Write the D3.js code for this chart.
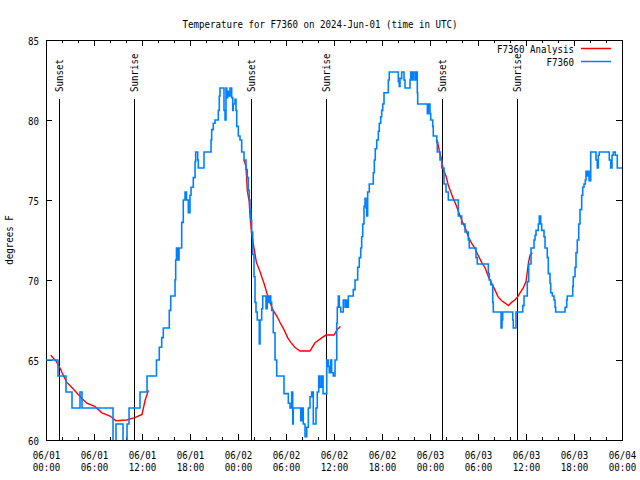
<!DOCTYPE html>
<html><head><meta charset="utf-8">
<script src="https://cdn.jsdelivr.net/npm/d3@7/dist/d3.min.js"></script>
<style>
body{margin:0;background:#fff}
text{font-family:"DejaVu Sans Mono",monospace;font-size:11px;fill:#000}
</style>
</head><body>
<svg id="c" width="640" height="480"></svg>
<script>
const title = "Temperature for F7360 on 2024-Jun-01 (time in UTC)";
const yLabel = "degrees F";
const seriesNames = ["F7360 Analysis", "F7360"];
const xMajorHours = [0,6,12,18,24,30,36,42,48,54,60,66,72];
const xTickDates = ["06/01","06/01","06/01","06/01","06/02","06/02","06/02","06/02","06/03","06/03","06/03","06/03","06/04"];
const xTickTimes = ["00:00","06:00","12:00","18:00","00:00","06:00","12:00","18:00","00:00","06:00","12:00","18:00","00:00"];
const xMinorHours = [2,4,8,10,14,16,20,22,26,28,32,34,38,40,44,46,50,52,56,58,62,64,68,70];
const yTicks = [60,65,70,75,80,85];
const sunNames = ["Sunset","Sunrise","Sunset","Sunrise","Sunset","Sunrise"];
const sunHours = [1.67,11.04,25.68,35.04,49.55,58.93];

const obsHours = [0,1.5,2.5,3.25,4.25,4.5,8.38,8.75,9.63,10.13,10.38,11.75,12.63,13.81,14.16,14.46,14.66,15.41,15.59,16.13,16.21,16.31,16.5,16.63,16.96,17.16,17.38,17.56,17.79,18.0,18.13,18.41,18.63,18.71,18.96,19.04,19.75,20.63,20.71,20.91,21.13,21.54,21.66,21.75,22.25,22.38,22.5,22.59,22.71,22.84,23.0,23.21,23.34,23.41,23.63,23.75,23.84,24.04,24.25,24.46,24.75,25.0,25.16,25.29,25.41,25.5,25.59,25.71,25.84,26.0,26.13,26.25,26.41,26.66,26.75,26.96,27.09,27.5,27.66,27.79,27.91,28.09,28.21,28.41,28.63,28.84,29.75,30.29,30.5,30.71,30.84,30.91,31.84,31.96,32.16,32.38,32.59,32.79,33.0,33.21,33.41,33.75,33.91,34.09,34.25,34.46,34.63,35.09,35.29,35.41,35.59,35.71,35.91,36.13,36.34,36.41,36.54,36.66,36.84,37.16,37.38,37.5,37.59,37.79,38.41,38.63,38.96,39.16,39.34,39.46,39.59,39.75,39.88,40.0,40.09,40.21,40.41,40.91,41.04,41.16,41.34,41.54,41.66,41.84,41.96,42.09,42.25,42.79,42.91,44.04,44.16,44.25,44.46,44.75,44.88,45.5,45.59,45.75,45.91,46.13,46.25,46.41,46.46,47.67,47.79,48.0,48.09,48.34,48.41,48.84,48.91,49.25,49.46,49.75,50.0,50.29,51.54,51.96,52.38,52.79,52.91,53.75,53.91,55.29,55.41,55.59,55.84,55.91,56.88,57.0,57.09,58.34,58.41,58.75,59.59,59.75,60.16,60.34,60.63,61.0,61.13,61.25,61.54,61.66,61.84,61.96,62.25,62.38,62.66,62.79,63.0,63.09,63.29,63.5,63.63,63.71,64.88,65.09,65.16,65.84,65.91,66.13,66.25,66.41,66.59,66.75,66.96,67.09,67.25,67.41,67.5,67.66,67.75,67.88,68.09,68.75,68.91,69.04,69.16,70.41,70.59,70.75,70.91,71.16,71.41,72];
const obsTemps = [65,64,63,62,63,62,59.5,61,59.5,61,62,63,64,65,65.8,66.4,67,68.1,69,70,71.25,72,71.25,72,73.6,75,75.5,75,74.2,75.3,75.8,76.4,77.4,78,77.5,77,78,78.75,79.4,79.8,80,80.6,81.5,82,80.6,80,82,81.4,81.8,81.5,82,81.4,80.6,81,81.3,80.6,79.6,79,78.75,78,77.5,76.9,76.4,75.6,75,74.4,73.75,73,71.6,70.2,68.6,68,67.5,66,67.5,68.2,69,68.2,69,68.6,69,68.6,68.1,66.7,65,64,62.9,62.3,62,63,61,62,61.2,62,61,60.2,60.8,62,62.7,63,61,62,63,64,63.3,64,62.9,65,64.6,64.2,65,64.2,64,65,67.3,68.3,69,68.3,68,68.75,68.3,68.75,68.3,69,69.4,70,70.8,71.4,72,72.7,73.5,74.6,75.1,74.5,74,75.5,76,76.7,77.5,78.2,78.75,79.3,79.8,80.2,80.6,81,81.7,82.5,83,82.4,82.1,82.6,83,82.5,82,82.5,83,82.5,83,82.5,83,81.7,81,80.4,81,80.4,80,79.6,79,78.6,78,77.5,77,76,75.5,75,74,73.5,73,72.5,72,71.4,71,70.4,70,69.7,68.6,68,67,67.5,68,67.5,67,68,68.4,69,69.9,71,72,72.5,72.8,73.1,73.5,74,73.5,73.1,72.7,72,71.4,70.4,69.8,69.2,69,68.75,68.3,68,68.3,68.75,69,69.6,70.2,70.8,71.7,72.5,73.5,74.4,75.3,75.8,76,76.25,76.8,76.5,76.8,76.2,78,77.5,77,77.8,78,77.5,77,77.8,78,77.8,77,77];

const anaHours = [0.6,1.3,1.75,2.2,2.6,3.0,3.75,4.5,5.1,6.1,7.0,8.0,8.75,10.1,11.1,12.0,12.4,12.8,null,
  24.75,25.0,25.16,25.4,25.5,25.7,25.9,26.1,26.3,26.7,26.96,27.25,27.6,28.0,28.4,28.9,29.3,29.75,30.2,30.6,31.1,31.75,33.0,33.6,34.5,35.0,36.0,36.4,36.8,null,
  48.9,49.16,49.46,49.66,50.0,50.3,50.6,50.9,51.25,51.54,51.96,52.4,52.8,53.2,53.6,54.0,54.46,54.9,55.3,55.7,56.1,56.5,56.96,57.4,57.8,58.2,58.6,58.9,59.25,59.66,60.0,60.16,60.3,60.5,60.8];
const anaTemps = [65.3,64.9,64.5,64.0,63.6,63.4,63.0,62.6,62.3,62.1,61.7,61.5,61.2,61.25,61.4,61.6,62.5,63.1,null,
  77.5,77.1,75.6,74.9,74.0,72.9,72.3,71.7,71.1,70.6,70.2,69.8,69.2,68.6,68.1,67.7,67.3,66.9,66.4,66.1,65.8,65.56,65.56,66.06,66.4,66.56,66.56,66.9,67.1,null,
  78.75,78.1,77.5,76.9,76.5,75.9,75.5,75.1,74.7,74.3,73.75,73.25,72.7,72.3,72.0,71.56,71.1,70.75,70.2,69.8,69.4,68.96,68.7,68.56,68.4,68.6,68.75,68.9,69.2,69.5,69.9,70.5,71.06,71.56,71.7];

const colors = ["#ff0000", "#0080ff"];
const PITCH = 5.5;

const svg = d3.select("#c");
const L = 46, R = 622, T = 40, B = 440;
const x = d3.scaleLinear().domain([0,72]).range([L,R]);
const y = d3.scaleLinear().domain([60,85]).range([B,T]);

function fit(sel){ sel.each(function(){ const s=this.textContent; if(s.length) d3.select(this).attr("textLength", s.length*PITCH).attr("lengthAdjust","spacingAndGlyphs"); }); }

// title
svg.append("text").attr("x",320).attr("y",28).attr("text-anchor","middle").text(title).call(fit);
// y label
svg.append("text").attr("transform","translate(13,240) rotate(-90)").attr("text-anchor","middle").text(yLabel).call(fit);

svg.append("defs").append("clipPath").attr("id","clip").append("rect").attr("x",L).attr("y",T).attr("width",R-L).attr("height",B-T);

// axes
const gB = svg.append("g").attr("transform",`translate(0,${B})`).attr("shape-rendering","crispEdges")
  .call(d3.axisBottom(x).tickValues(xMajorHours).tickSize(-6).tickFormat(""));
gB.selectAll(".tick text").remove();
gB.selectAll(".tick").each(function(d,i){
  const g=d3.select(this);
  g.append("text").attr("y",18.5).attr("text-anchor","middle").text(xTickDates[i]).call(fit);
  g.append("text").attr("y",31).attr("text-anchor","middle").text(xTickTimes[i]).call(fit);
});
svg.append("g").attr("transform",`translate(0,${B})`).attr("shape-rendering","crispEdges")
  .call(d3.axisBottom(x).tickValues(xMinorHours).tickSize(-3).tickFormat(""));
svg.append("g").attr("transform",`translate(0,${T})`).attr("shape-rendering","crispEdges")
  .call(d3.axisTop(x).tickValues(xMajorHours).tickSize(-6).tickFormat(""));
svg.append("g").attr("transform",`translate(0,${T})`).attr("shape-rendering","crispEdges")
  .call(d3.axisTop(x).tickValues(xMinorHours).tickSize(-3).tickFormat(""));
const gL = svg.append("g").attr("transform",`translate(${L},0)`).attr("shape-rendering","crispEdges")
  .call(d3.axisLeft(y).tickValues(yTicks).tickSize(-6).tickPadding(7).tickFormat(d3.format("d")));
gL.selectAll(".tick text").attr("dy","0.42em").call(fit);
svg.append("g").attr("transform",`translate(${R},0)`).attr("shape-rendering","crispEdges")
  .call(d3.axisRight(y).tickValues(yTicks).tickSize(-6).tickFormat(""));
svg.selectAll(".domain").remove();
svg.selectAll(".tick line").attr("stroke","#000");
svg.selectAll("g text").attr("fill","#000").attr("font-family",null).attr("font-size",null);

// sunrise / sunset
sunHours.forEach((h,i)=>{
  const xx = x(h);
  svg.append("line").attr("x1",xx).attr("x2",xx).attr("y1",99).attr("y2",B).attr("stroke","#000").attr("shape-rendering","crispEdges");
  svg.append("text").attr("transform",`translate(${xx+4},92) rotate(-90)`).attr("text-anchor","start").text(sunNames[i]).call(fit);
});

// frame
svg.append("rect").attr("x",L).attr("y",T).attr("width",R-L).attr("height",B-T).attr("fill","none").attr("stroke","#000").attr("shape-rendering","crispEdges");

const plot = svg.append("g").attr("clip-path","url(#clip)");
const anaData = anaHours.map((h,i)=>({h, t: anaTemps[i]}));
plot.append("path").datum(anaData)
  .attr("d", d3.line().defined(d=>d.h!==null && d.t!==null).x(d=>x(d.h)).y(d=>y(d.t)))
  .attr("fill","none").attr("stroke",colors[0]).attr("stroke-width",1.4);
const obsData = obsHours.map((h,i)=>({h, t: obsTemps[i]}));
plot.append("path").datum(obsData)
  .attr("d", d3.line().curve(d3.curveStepAfter).x(d=>x(d.h)).y(d=>y(d.t)))
  .attr("fill","none").attr("stroke",colors[1]).attr("stroke-width",1.6);

// legend
const legY = [49, 62];
seriesNames.forEach((n,i)=>{
  svg.append("text").attr("x",574).attr("y",legY[i]+4).attr("text-anchor","end").text(n).call(fit);
  svg.append("line").attr("x1",581).attr("x2",611).attr("y1",legY[i]-0.5).attr("y2",legY[i]-0.5).attr("stroke",colors[i]).attr("stroke-width",1.5);
});
</script>
</body></html>
